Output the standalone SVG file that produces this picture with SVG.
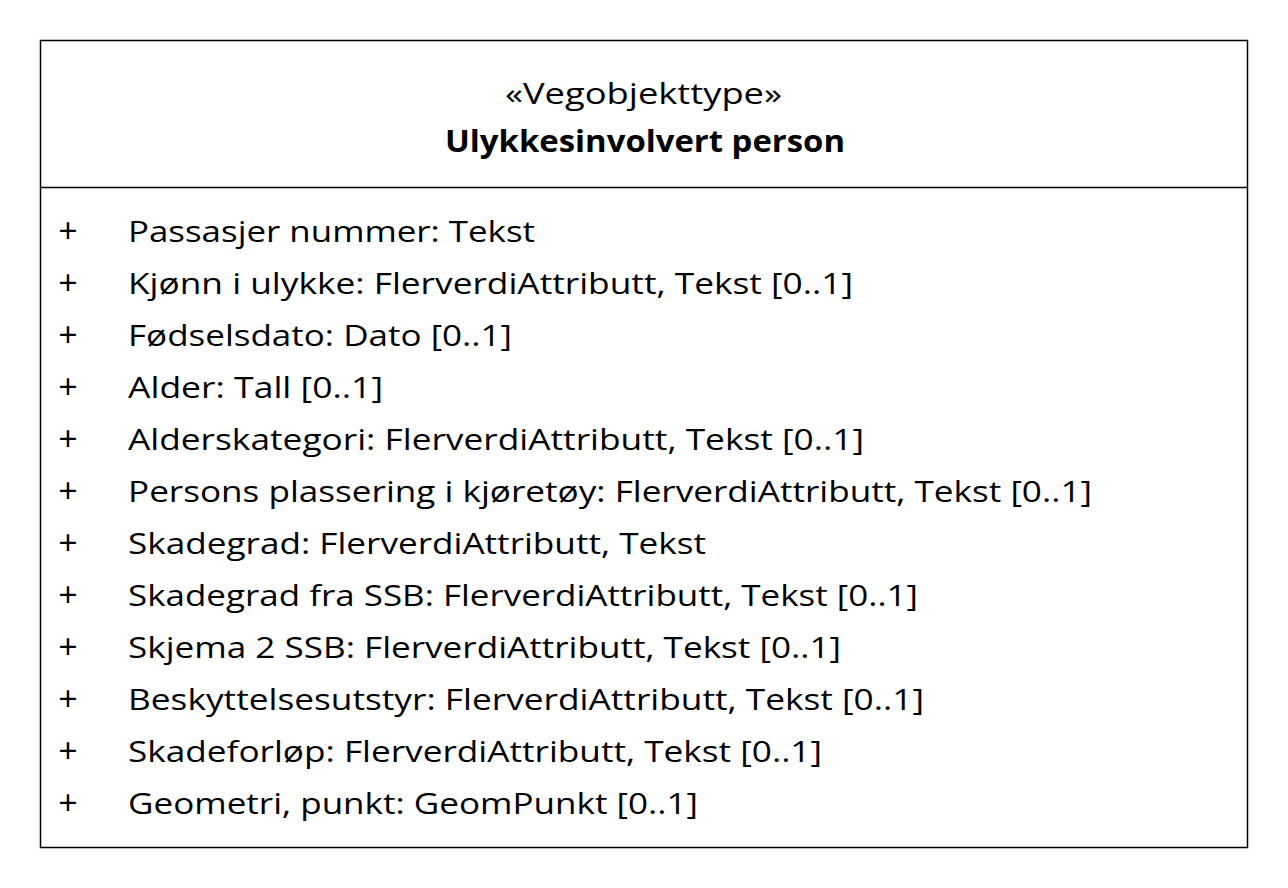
<svg xmlns="http://www.w3.org/2000/svg" width="1288" height="888" viewBox="0 0 1288 888">
<style>
text{font-family:"Open Sans","Noto Sans","DejaVu Sans",sans-serif;font-size:30px;fill:#000}
.b{font-weight:bold}
.p{text-anchor:middle;font-size:34px}
</style>
<rect width="1288" height="888" fill="#fff"/>
<g id="class-ulykkesinvolvert-person">
<rect x="40.5" y="40.5" width="1207" height="807" fill="#fff" stroke="#000" stroke-width="1.5"/>
<line x1="40.5" y1="187.5" x2="1247.5" y2="187.5" stroke="#000" stroke-width="1.5"/>
<text x="505" y="104" textLength="277" lengthAdjust="spacingAndGlyphs">«Vegobjekttype»</text>
<text class="b" x="445" y="152" textLength="400" lengthAdjust="spacingAndGlyphs">Ulykkesinvolvert person</text>
<g class="attrs">
<text class="p" x="68" y="243">+</text>
<text x="128" y="242" textLength="407" lengthAdjust="spacingAndGlyphs">Passasjer nummer: Tekst</text>
<text class="p" x="68" y="295">+</text>
<text x="128" y="294" textLength="725" lengthAdjust="spacingAndGlyphs">Kjønn i ulykke: FlerverdiAttributt, Tekst [0..1]</text>
<text class="p" x="68" y="347">+</text>
<text x="128" y="346" textLength="384" lengthAdjust="spacingAndGlyphs">Fødselsdato: Dato [0..1]</text>
<text class="p" x="68" y="399">+</text>
<text x="128" y="398" textLength="255" lengthAdjust="spacingAndGlyphs">Alder: Tall [0..1]</text>
<text class="p" x="68" y="451">+</text>
<text x="128" y="450" textLength="736" lengthAdjust="spacingAndGlyphs">Alderskategori: FlerverdiAttributt, Tekst [0..1]</text>
<text class="p" x="68" y="503">+</text>
<text x="128" y="502" textLength="964" lengthAdjust="spacingAndGlyphs">Persons plassering i kjøretøy: FlerverdiAttributt, Tekst [0..1]</text>
<text class="p" x="68" y="555">+</text>
<text x="128" y="554" textLength="578" lengthAdjust="spacingAndGlyphs">Skadegrad: FlerverdiAttributt, Tekst</text>
<text class="p" x="68" y="607">+</text>
<text x="128" y="606" textLength="790" lengthAdjust="spacingAndGlyphs">Skadegrad fra SSB: FlerverdiAttributt, Tekst [0..1]</text>
<text class="p" x="68" y="659">+</text>
<text x="128" y="658" textLength="713" lengthAdjust="spacingAndGlyphs">Skjema 2 SSB: FlerverdiAttributt, Tekst [0..1]</text>
<text class="p" x="68" y="711">+</text>
<text x="128" y="710" textLength="796" lengthAdjust="spacingAndGlyphs">Beskyttelsesutstyr: FlerverdiAttributt, Tekst [0..1]</text>
<text class="p" x="68" y="763">+</text>
<text x="128" y="762" textLength="694" lengthAdjust="spacingAndGlyphs">Skadeforløp: FlerverdiAttributt, Tekst [0..1]</text>
<text class="p" x="68" y="815">+</text>
<text x="128" y="814" textLength="570" lengthAdjust="spacingAndGlyphs">Geometri, punkt: GeomPunkt [0..1]</text>
</g>
</g>
<g id="connectors"/>
</svg>
